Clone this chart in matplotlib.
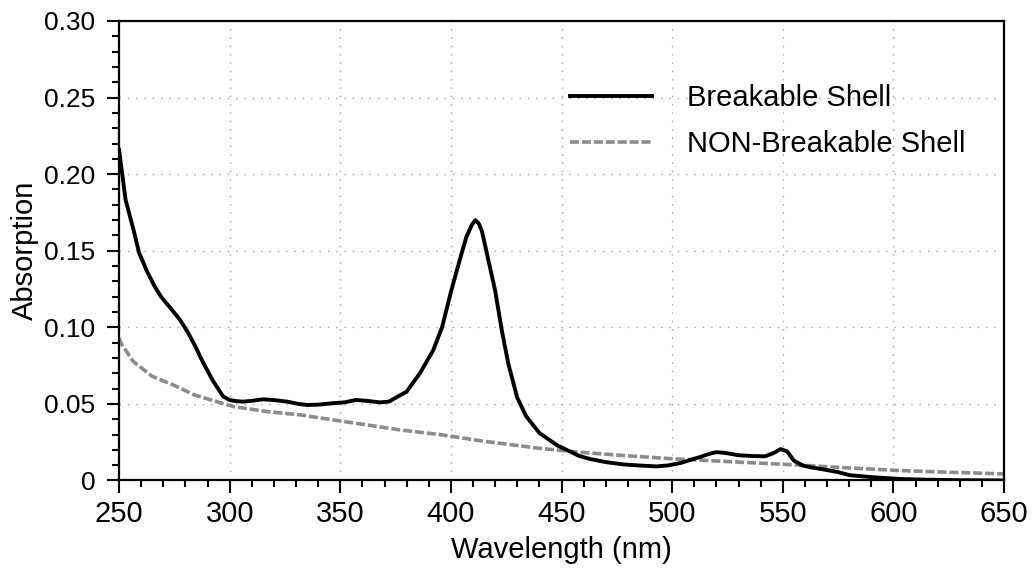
import matplotlib
matplotlib.use("Agg")
import matplotlib.pyplot as plt
from matplotlib.ticker import MultipleLocator

plt.rcParams['font.family'] = ['Liberation Sans', 'DejaVu Sans']

# Breakable shell spectrum
wl_break = [250, 251, 253, 256.5, 259, 262.5, 266, 269, 273, 277.5, 281, 284, 288, 292.5,
            297, 300, 303, 306, 310, 315, 320, 326, 331, 335, 340, 347, 352, 357, 362,
            368, 372, 376, 380, 386, 392, 396, 400, 404, 407, 409.5, 411, 412.5, 414, 416,
            420, 423, 426, 430, 434, 440, 448, 458, 463, 470, 478, 485, 493, 498, 504, 509,
            513, 517, 520, 524, 530, 536, 542, 546, 549, 552, 555, 559, 563, 567, 575, 580,
            590, 603, 615, 630, 650]
abs_break = [0.216, 0.205, 0.183, 0.164, 0.149, 0.137, 0.127, 0.120, 0.113, 0.105, 0.097,
             0.089, 0.077, 0.065, 0.055, 0.0525, 0.0518, 0.0515, 0.052, 0.053, 0.0525,
             0.0515, 0.050, 0.0493, 0.0495, 0.0505, 0.051, 0.0526, 0.052, 0.051, 0.0515,
             0.0548, 0.058, 0.070, 0.085, 0.100, 0.123, 0.144, 0.159, 0.167, 0.170, 0.168,
             0.163, 0.150, 0.124, 0.098, 0.076, 0.054, 0.042, 0.031, 0.023, 0.016, 0.014,
             0.012, 0.0105, 0.0098, 0.0092, 0.0098, 0.0115, 0.0138, 0.0155, 0.0175, 0.0185,
             0.018, 0.0165, 0.016, 0.0158, 0.018, 0.0205, 0.019, 0.013, 0.0098, 0.0085,
             0.0076, 0.0055, 0.0035, 0.0022, 0.001, 0.0005, 0.0002, 0.0]

# Non-breakable shell spectrum
wl_nonbreak = [250, 251.2, 256.5, 265, 274.5, 284, 294, 302, 317, 332, 347, 362, 377, 395,
               413, 440, 458, 478, 500, 530, 558, 580, 603, 625, 650]
abs_nonbreak = [0.093, 0.089, 0.0776, 0.068, 0.0624, 0.0559, 0.0515, 0.0482, 0.045, 0.0428,
                0.0395, 0.0363, 0.033, 0.030, 0.026, 0.021, 0.0185, 0.0163, 0.0142, 0.012,
                0.010, 0.0082, 0.0065, 0.0054, 0.0043]

y_ticks = [0, 0.05, 0.10, 0.15, 0.20, 0.25, 0.30]
y_labels = ['0', '0.05', '0.10', '0.15', '0.20', '0.25', '0.30']

fig = plt.figure(figsize=(10.34, 5.78), dpi=100)
ax = fig.add_axes([0.1151, 0.1687, 0.8559, 0.795])

ax.plot(wl_break, abs_break, color="black", lw=2.8, label="Breakable Shell", zorder=3)
ax.plot(wl_nonbreak, abs_nonbreak, color="#8c8c8c", lw=2.6, linestyle=(0, (2.5, 0.8)),
        label="NON-Breakable Shell", zorder=2)

ax.set_xlim(250, 650)
ax.set_ylim(0, 0.30)
ax.xaxis.set_major_locator(MultipleLocator(50))
ax.xaxis.set_minor_locator(MultipleLocator(10))
ax.set_yticks(y_ticks)
ax.set_yticklabels(y_labels)
ax.yaxis.set_minor_locator(MultipleLocator(0.01))

ax.tick_params(which='major', length=9, width=1.5, direction='out')
ax.tick_params(which='minor', length=5, width=1.5, direction='out')
ax.tick_params(axis='x', labelsize=21, pad=5)
ax.tick_params(axis='y', labelsize=19, pad=8)
ax.tick_params(top=False, right=False, which='both')

for s in ax.spines.values():
    s.set_linewidth(1.6)

ax.grid(True, which='major', color='#a0a0a0', linestyle=(0, (1, 5)), lw=1)

ax.set_xlabel("Wavelength (nm)", fontsize=21, labelpad=6)
ax.set_ylabel("Absorption", fontsize=21, labelpad=4)

ax.legend(loc='upper left', bbox_to_anchor=(0.51, 0.862), frameon=False, fontsize=21,
          handlelength=2.8, handletextpad=1.2, borderpad=0, borderaxespad=0,
          labelspacing=0.6)

fig.savefig("out.png", dpi=100)
